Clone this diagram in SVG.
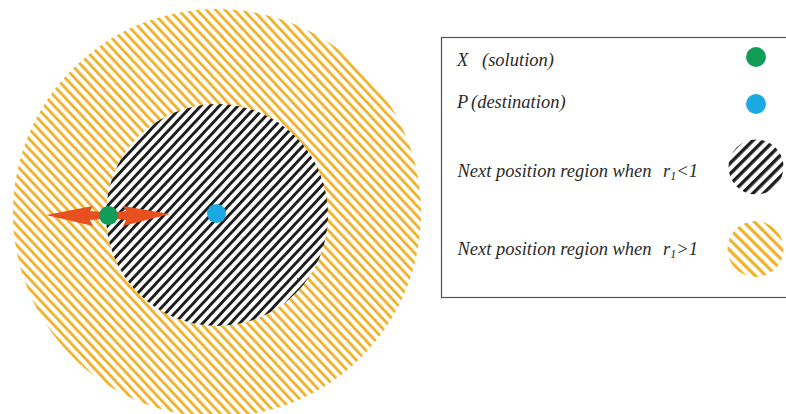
<svg xmlns="http://www.w3.org/2000/svg" width="786" height="414" viewBox="0 0 786 414">
<style>
.lbl{font-family:"Liberation Serif","DejaVu Serif",serif;font-style:italic;font-size:18.5px;fill:#2b2b2b}
.sub{font-size:12px}
.arrow{fill:#E9501F}
</style>
<defs>
<pattern id="yel" patternUnits="userSpaceOnUse" width="6.8" height="6.8" patternTransform="rotate(-43)">
<rect x="0" y="0" width="6.8" height="6.8" fill="#fff"/>
<rect x="0" y="0" width="2.8" height="6.8" fill="#F0B22A"/>
</pattern>
<pattern id="blk" patternUnits="userSpaceOnUse" width="6.8" height="6.8" patternTransform="rotate(43)">
<rect x="0" y="0" width="6.8" height="6.8" fill="#fff"/>
<rect x="0" y="0" width="2.9" height="6.8" fill="#1c1c1c"/>
</pattern>
<pattern id="yelL" patternUnits="userSpaceOnUse" width="7.5" height="7.5" patternTransform="rotate(-45)">
<rect x="0" y="0" width="7.5" height="7.5" fill="#fff"/>
<rect x="0" y="0" width="3.2" height="7.5" fill="#F0B22A"/>
</pattern>
<pattern id="blkL" patternUnits="userSpaceOnUse" width="7.5" height="7.5" patternTransform="rotate(45)">
<rect x="0" y="0" width="7.5" height="7.5" fill="#fff"/>
<rect x="0" y="0" width="3.4" height="7.5" fill="#1c1c1c"/>
</pattern>
</defs>
<rect width="786" height="414" fill="#fff"/>
<g id="outer-region"><circle cx="217" cy="213" r="204" fill="url(#yel)"/></g>
<g id="inner-region"><circle cx="217" cy="215" r="111" fill="url(#blk)"/></g>
<g id="connectors">
<polygon class="arrow" points="46,215 93,206 90,211 101,212 101,219 90,220 93,226"/>
<polygon class="arrow" points="170,214 123,206 126,211 116,212 116,219 126,220 123,226"/>
</g>
<g id="X"><circle cx="108.5" cy="215.5" r="9.5" fill="#119C57"/></g>
<g id="P"><circle cx="216.5" cy="213.5" r="9.5" fill="#1BA9E1"/></g>
<g id="legend">
<rect x="441.5" y="37.5" width="360" height="260" fill="none" stroke="#555" stroke-width="1.2"/>
<text class="lbl" x="457" y="66">X<tspan x="482">(solution)</tspan></text>
<text class="lbl" x="457" y="108">P<tspan x="471">(destination)</tspan></text>
<text class="lbl" x="457.5" y="177">Next position region when<tspan x="663">r</tspan><tspan class="sub" dy="3">1</tspan><tspan dy="-3">&lt;1</tspan></text>
<text class="lbl" x="457.5" y="255">Next position region when<tspan x="663">r</tspan><tspan class="sub" dy="3">1</tspan><tspan dy="-3">&gt;1</tspan></text>
<circle cx="756" cy="57" r="10" fill="#119C57"/>
<circle cx="756" cy="104" r="10" fill="#1BA9E1"/>
<circle cx="756" cy="167" r="27.5" fill="url(#blkL)"/>
<circle cx="755.5" cy="249" r="28" fill="url(#yelL)"/>
</g>
</svg>
